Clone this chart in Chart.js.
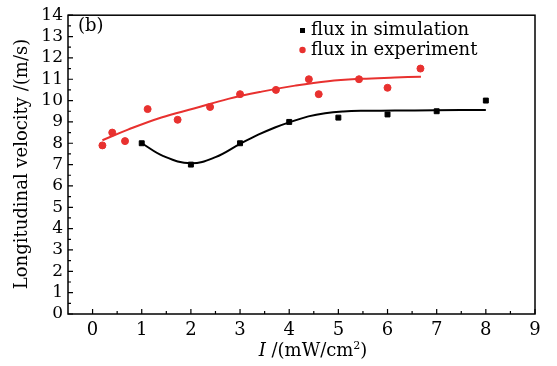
<!DOCTYPE html>
<html>
<head>
<meta charset="utf-8">
<script src="https://cdn.jsdelivr.net/npm/chart.js@4.4.0/dist/chart.umd.min.js"></script>
<style>
  body { margin: 0; background: #fff; }
</style>
</head>
<body>
<canvas id="grafico" width="557" height="366"></canvas>
<script>
// dados
const simI = [1, 2, 3, 4, 5, 6, 7, 8];
const simV = [8.0, 7.0, 8.0, 9.0, 9.2, 9.35, 9.5, 10.0];
const expI = [0.2, 0.4, 0.66, 1.12, 1.73, 2.39, 3.0, 3.73, 4.4, 4.6, 5.42, 6.0, 6.67];
const expV = [7.9, 8.5, 8.1, 9.6, 9.1, 9.7, 10.3, 10.5, 11.0, 10.3, 11.0, 10.6, 11.5];
const simFitI = [1, 1.44, 2.0, 2.5, 3.0, 3.37, 3.71, 4.0, 4.39, 4.73, 5.1, 5.47, 6.15, 6.96, 8];
const simFitV = [8.0, 7.4, 7.06, 7.35, 7.97, 8.4, 8.74, 8.98, 9.26, 9.41, 9.49, 9.52, 9.53, 9.55, 9.56];
const expFitI = [0.2, 0.72, 1.4, 2.08, 2.76, 3.44, 4.12, 4.79, 5.47, 6.15, 6.68];
const expFitV = [8.14, 8.64, 9.21, 9.64, 10.08, 10.42, 10.70, 10.91, 11.02, 11.08, 11.12];
const xTicks = [0, 1, 2, 3, 4, 5, 6, 7, 8, 9];
const legendNames = ["flux in simulation", "flux in experiment"];

const VERMELHO = "#e8312f";
const FONTE = "'DejaVu Serif', 'Liberation Serif', serif";

function pares(xs, ys) {
  return xs.map(function (x, i) { return { x: x, y: ys[i] }; });
}

// ticks internos, moldura, legenda e titulos
const extras = {
  id: "extras",
  afterDraw: function (chart) {
    const ctx = chart.ctx;
    const a = chart.chartArea;
    const sx = chart.scales.x;
    const sy = chart.scales.y;
    ctx.save();
    ctx.strokeStyle = "#000";
    ctx.lineWidth = 1.5;
    ctx.strokeRect(a.left, a.top, a.right - a.left, a.bottom - a.top);

    ctx.lineWidth = 1.2;
    ctx.beginPath();
    for (let v = 0; v <= 9; v += 0.5) {
      const px = sx.getPixelForValue(v);
      const len = v % 1 === 0 ? 5 : 3;
      ctx.moveTo(px, a.bottom);
      ctx.lineTo(px, a.bottom - len);
    }
    for (let v = 0; v <= 14; v += 0.5) {
      const py = sy.getPixelForValue(v);
      const len = v % 1 === 0 ? 5 : 3;
      ctx.moveTo(a.left, py);
      ctx.lineTo(a.left + len, py);
    }
    ctx.stroke();

    // legenda
    ctx.fillStyle = "#000";
    ctx.fillRect(300, 28, 5, 5);
    ctx.fillStyle = VERMELHO;
    ctx.beginPath();
    ctx.arc(302.5, 50, 3.2, 0, Math.PI * 2);
    ctx.fill();
    ctx.fillStyle = "#000";
    ctx.font = "18px " + FONTE;
    ctx.textBaseline = "middle";
    ctx.textAlign = "left";
    ctx.fillText(legendNames[0], 311, 30);
    ctx.fillText(legendNames[1], 311, 50);

    ctx.font = "18px " + FONTE;
    ctx.fillText("(b)", 78, 26);

    // titulo do eixo x com I em italico
    ctx.textBaseline = "alphabetic";
    ctx.font = "italic 18px " + FONTE;
    const p1 = "I";
    const p2 = " /(mW/cm";
    const p3 = "2";
    const p4 = ")";
    const w1 = ctx.measureText(p1).width;
    ctx.font = "18px " + FONTE;
    const w2 = ctx.measureText(p2).width;
    const w4 = ctx.measureText(p4).width;
    ctx.font = "11px " + FONTE;
    const w3 = ctx.measureText(p3).width;
    let x0 = 313 - (w1 + w2 + w3 + w4) / 2;
    const base = 356;
    ctx.font = "italic 18px " + FONTE;
    ctx.fillText(p1, x0, base);
    x0 += w1;
    ctx.font = "18px " + FONTE;
    ctx.fillText(p2, x0, base);
    x0 += w2;
    ctx.font = "11px " + FONTE;
    ctx.fillText(p3, x0, base - 7);
    x0 += w3;
    ctx.font = "18px " + FONTE;
    ctx.fillText(p4, x0, base);

    // titulo do eixo y
    ctx.translate(22, 164);
    ctx.rotate(-Math.PI / 2);
    ctx.textAlign = "center";
    ctx.textBaseline = "middle";
    ctx.font = "18px " + FONTE;
    ctx.fillText("Longitudinal velocity /(m/s)", 0, 0);
    ctx.restore();
  }
};

const config = {
  type: "scatter",
  data: {
    datasets: [
      {
        type: "line",
        data: pares(expFitI, expFitV),
        borderColor: VERMELHO,
        borderWidth: 2,
        pointRadius: 0,
        tension: 0.4,
        fill: false
      },
      {
        type: "line",
        data: pares(simFitI, simFitV),
        borderColor: "#000",
        borderWidth: 2,
        pointRadius: 0,
        tension: 0.4,
        fill: false
      },
      {
        label: legendNames[1],
        data: pares(expI, expV),
        backgroundColor: VERMELHO,
        borderColor: VERMELHO,
        pointStyle: "circle",
        pointRadius: 3.5
      },
      {
        label: legendNames[0],
        data: pares(simI, simV),
        backgroundColor: "#000",
        borderColor: "#000",
        pointStyle: "rect",
        pointRadius: 3.5
      }
    ]
  },
  options: {
    responsive: false,
    animation: false,
    layout: { padding: { left: 0, top: 13, right: 22, bottom: 0 } },
    plugins: {
      legend: { display: false },
      tooltip: { enabled: false }
    },
    scales: {
      x: {
        type: "linear",
        min: -0.5,
        max: 9,
        afterBuildTicks: function (s) {
          s.ticks = xTicks.map(function (v) { return { value: v }; });
        },
        afterFit: function (s) { s.height = 52; },
        grid: { display: false, drawTicks: false },
        border: { display: false },
        ticks: {
          color: "#000",
          padding: 6,
          maxRotation: 0,
          autoSkip: false,
          font: { family: FONTE, size: 18 }
        }
      },
      y: {
        min: 0,
        max: 14,
        afterFit: function (s) { s.width = 68; },
        grid: { display: false, drawTicks: false },
        border: { display: false },
        ticks: {
          stepSize: 1,
          autoSkip: false,
          color: "#000",
          padding: 5,
          font: { family: FONTE, size: 17 }
        }
      }
    }
  },
  plugins: [extras]
};

new Chart(document.getElementById("grafico"), config);
</script>
</body>
</html>
